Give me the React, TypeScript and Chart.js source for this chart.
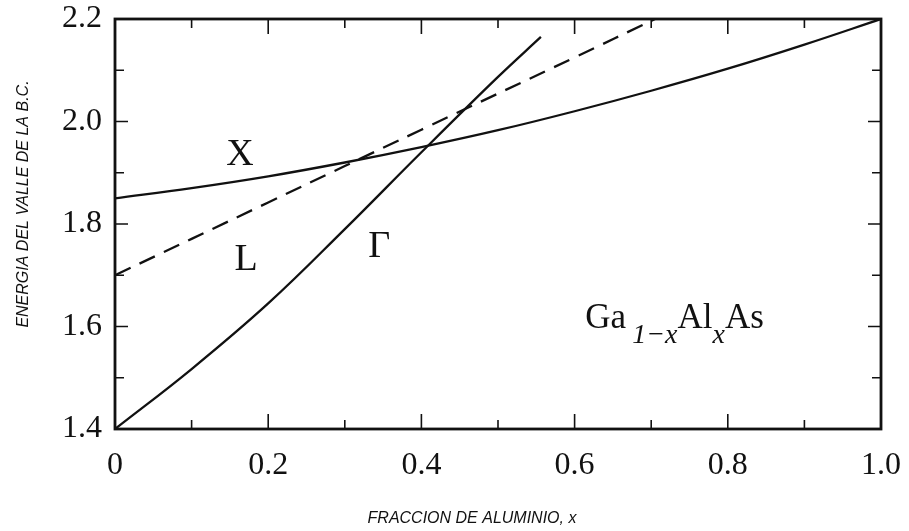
import { useEffect, useRef } from "react";
import { Chart, registerables } from "chart.js";

Chart.register(...registerables);

// Band-edge valley energies (eV) versus aluminium fraction x
const gammaX = [0, 0.1, 0.2, 0.3, 0.4, 0.5, 0.556];
const gammaE = [1.4, 1.517, 1.645, 1.79, 1.94, 2.087, 2.165];

const xValleyX = [0, 0.1, 0.2, 0.3, 0.4, 0.5, 0.6, 0.7, 0.8, 0.9, 1.0];
const xValleyE = [1.85, 1.87, 1.893, 1.92, 1.95, 1.983, 2.02, 2.06, 2.103, 2.15, 2.2];

const lValleyX = [0, 0.2, 0.4, 0.6, 0.705];
const lValleyE = [1.7, 1.842, 1.984, 2.125, 2.2];

// Axis ticks
const xMajorTicks = [0, 0.2, 0.4, 0.6, 0.8, 1.0];
const xTickLabels = ["0", "0.2", "0.4", "0.6", "0.8", "1.0"];
const xMinorTicks = [0.1, 0.3, 0.5, 0.7, 0.9];
const yMajorTicks = [1.4, 1.6, 1.8, 2.0, 2.2];
const yTickLabels = ["1.4", "1.6", "1.8", "2.0", "2.2"];
const yMinorTicks = [1.5, 1.7, 1.9, 2.1];

// In-plot annotations: [text, x, y] at the text's centre-bottom
const curveLabels: [string, number, number][] = [
  ["X", 0.163, 1.915],
  ["L", 0.171, 1.71],
  ["\u0393", 0.345, 1.736],
];
const formulaAnchor = { x: 0.614, y: 1.597 };

const xTitle = "FRACCION DE ALUMINIO, x";
const yTitle = "ENERGIA DEL VALLE DE LA B.C.";

const INK = "#111";
const SERIF = '"Liberation Serif", "Times New Roman", serif';
const SANS = '"Liberation Sans", Arial, sans-serif';

const toPoints = (xs: number[], ys: number[]) => xs.map((x, i) => ({ x, y: ys[i] }));

const framePlugin = {
  id: "frameAndDecor",
  afterDatasetsDraw(chart: any) {
    const { ctx, chartArea: a, scales } = chart;
    const xs = scales.x;
    const ys = scales.y;
    ctx.save();
    ctx.strokeStyle = INK;

    // inward tick marks on all four sides
    ctx.lineWidth = 1.6;
    const vTick = (v: number, len: number) => {
      const px = xs.getPixelForValue(v);
      ctx.beginPath();
      ctx.moveTo(px, a.bottom);
      ctx.lineTo(px, a.bottom - len);
      ctx.moveTo(px, a.top);
      ctx.lineTo(px, a.top + len);
      ctx.stroke();
    };
    const hTick = (v: number, len: number) => {
      const py = ys.getPixelForValue(v);
      ctx.beginPath();
      ctx.moveTo(a.left, py);
      ctx.lineTo(a.left + len, py);
      ctx.moveTo(a.right, py);
      ctx.lineTo(a.right - len, py);
      ctx.stroke();
    };
    xMajorTicks.forEach((v) => vTick(v, 15));
    xMinorTicks.forEach((v) => vTick(v, 9));
    yMajorTicks.forEach((v) => hTick(v, 13));
    yMinorTicks.forEach((v) => hTick(v, 9));

    // frame
    ctx.lineWidth = 2.8;
    ctx.strokeRect(a.left, a.top, a.right - a.left, a.bottom - a.top);

    // curve labels
    ctx.fillStyle = INK;
    ctx.textAlign = "center";
    ctx.textBaseline = "alphabetic";
    ctx.font = `38px ${SERIF}`;
    curveLabels.forEach(([t, x, y]) => {
      ctx.fillText(t, xs.getPixelForValue(x), ys.getPixelForValue(y));
    });

    // alloy formula Ga(1-x)Al(x)As
    let fx = xs.getPixelForValue(formulaAnchor.x);
    const fy = ys.getPixelForValue(formulaAnchor.y);
    ctx.textAlign = "left";
    const parts: [string, boolean][] = [
      ["Ga", false],
      ["1\u2212x", true],
      ["Al", false],
      ["x", true],
      ["As", false],
    ];
    parts.forEach(([t, sub], i) => {
      ctx.font = sub ? `italic 28px ${SERIF}` : `35px ${SERIF}`;
      if (i === 1) fx += 6;
      ctx.fillText(t, fx, sub ? fy + 15 : fy);
      fx += ctx.measureText(t).width;
    });

    // axis titles
    ctx.font = `italic 16px ${SANS}`;
    ctx.textAlign = "center";
    ctx.textBaseline = "middle";
    ctx.fillText(xTitle, 472, 519);
    ctx.save();
    ctx.translate(24, 204);
    ctx.rotate(-Math.PI / 2);
    ctx.fillText(yTitle, 0, 0);
    ctx.restore();

    ctx.restore();
  },
};

// fixed axis band sizes; tick-label overflow padding is not wanted
const fixBand = (s: any, prop: "width" | "height", size: number) => {
  s[prop] = size;
  s.paddingTop = 0;
  s.paddingBottom = 0;
  s.paddingLeft = 0;
  s.paddingRight = 0;
};

export default function App() {
  const ref = useRef<HTMLCanvasElement | null>(null);

  useEffect(() => {
    if (!ref.current) return;
    const lineStyle = {
      borderColor: INK,
      borderWidth: 2.3,
      pointRadius: 0,
      pointHoverRadius: 0,
      showLine: true,
      fill: false,
      tension: 0.4,
    };
    const chart = new Chart(ref.current, {
      type: "scatter",
      data: {
        datasets: [
          { label: "\u0393", data: toPoints(gammaX, gammaE), ...lineStyle },
          { label: "X", data: toPoints(xValleyX, xValleyE), ...lineStyle },
          { label: "L", data: toPoints(lValleyX, lValleyE), ...lineStyle, borderDash: [17, 10] },
        ],
      },
      options: {
        responsive: false,
        animation: false,
        events: [],
        layout: { autoPadding: false, padding: { top: 19, right: 28, left: 0, bottom: 0 } },
        plugins: {
          legend: { display: false },
          tooltip: { enabled: false },
          title: { display: false },
        },
        scales: {
          x: {
            type: "linear",
            min: 0,
            max: 1,
            grid: { display: false, drawTicks: false },
            border: { display: false },
            afterBuildTicks: (s: any) => {
              s.ticks = xMajorTicks.map((value) => ({ value }));
            },
            afterFit: (s: any) => fixBand(s, "height", 102),
            ticks: {
              color: INK,
              padding: 21,
              maxRotation: 0,
              autoSkip: false,
              font: { family: SERIF, size: 32, lineHeight: 1 },
              callback: (_v: any, i: number) => xTickLabels[i],
            },
          },
          y: {
            type: "linear",
            min: 1.4,
            max: 2.2,
            grid: { display: false, drawTicks: false },
            border: { display: false },
            afterBuildTicks: (s: any) => {
              s.ticks = yMajorTicks.map((value) => ({ value }));
            },
            afterFit: (s: any) => fixBand(s, "width", 115),
            ticks: {
              color: INK,
              padding: 13,
              autoSkip: false,
              font: { family: SERIF, size: 32, lineHeight: 1 },
              callback: (_v: any, i: number) => yTickLabels[i],
            },
          },
        },
      },
      plugins: [framePlugin],
    });
    return () => chart.destroy();
  }, []);

  return (
    <div style={{ position: "absolute", left: 0, top: 0, width: 909, height: 531, background: "#fff" }}>
      <canvas ref={ref} width={909} height={531} style={{ display: "block" }} />
    </div>
  );
}
